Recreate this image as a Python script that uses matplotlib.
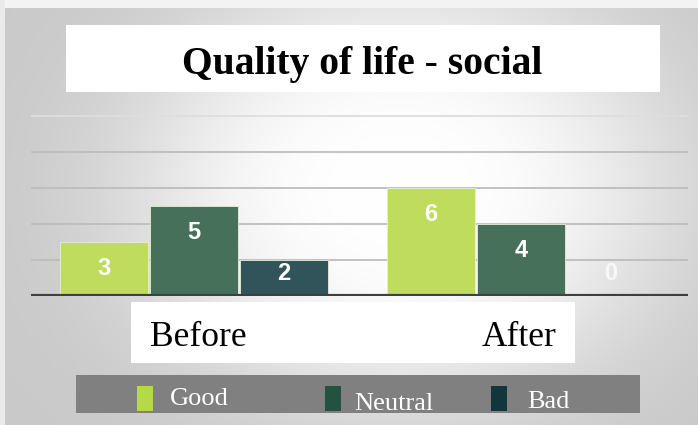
import numpy as np
import matplotlib
matplotlib.use("Agg")
import matplotlib.pyplot as plt
from matplotlib.patches import Rectangle

# ---- data ----
categories = ["Before", "After"]
series_names = ["Good", "Neutral", "Bad"]
good = [3, 6]
neutral = [5, 4]
bad = [2, 0]
title = "Quality of life - social"

bar_colors = ["#bfdc5c", "#47705b", "#30545a"]
legend_colors = ["#b5d94a", "#245241", "#13363c"]

W, H = 698, 425
fig = plt.figure(figsize=(W / 100, H / 100), dpi=100)

def fx(px):
    return px / W

def fy(py):
    return 1 - py / H

# ---- background ----
bg = fig.add_axes([0, 0, 1, 1], zorder=0)
bg.set_xlim(0, W)
bg.set_ylim(H, 0)
bg.axis("off")
xx, yy = np.meshgrid(np.linspace(0, W, 350), np.linspace(0, H, 213))
r2 = ((xx - 400) / 330) ** 2 + ((yy - 190) / 260) ** 2
val = 0.79 + 0.21 * np.exp(-(r2 ** 1.5) * 1.8)
img = np.dstack([val, val, val])
bg.imshow(img, extent=[0, W, H, 0], aspect="auto", zorder=0)
bg.add_patch(Rectangle((0, 0), W, 8, color="#f3f3f3", zorder=1, lw=0))
bg.add_patch(Rectangle((0, 0), 5, H, color="#eaeaea", zorder=1, lw=0))

# title box
bg.add_patch(Rectangle((66, 25), 594, 67, color="white", zorder=2, lw=0))
bg.text(362, 74, title, ha="center", va="baseline", fontsize=28.5, fontweight="bold",
        family="Liberation Serif", color="black", zorder=3)

# category label box
bg.add_patch(Rectangle((131, 302), 444, 61, color="white", zorder=2, lw=0))
cat_x_px = [198.5, 519]
for lab, cx in zip(categories, cat_x_px):
    bg.text(cx, 346, lab, ha="center", va="baseline", fontsize=25.5,
            family="Liberation Serif", color="black", zorder=3)

# legend box
bg.add_patch(Rectangle((76, 375), 564, 38, color="#808080", zorder=2, lw=0))
leg_patch_x = [137, 325, 491]
leg_text_x = [170, 354, 527]
leg_text_y = [405, 410, 408]
for name, c, px, tx, ty in zip(series_names, legend_colors, leg_patch_x, leg_text_x, leg_text_y):
    bg.add_patch(Rectangle((px, 386), 16, 25, color=c, zorder=3, lw=0))
    bg.text(tx, ty, name, ha="left", va="baseline", fontsize=19, family="Liberation Serif",
            color="white", zorder=3)

# ---- main axes ----
ax_left, ax_right = 31, 688
ax_bottom, ax_top = 296, 110
ax = fig.add_axes([fx(ax_left), fy(ax_bottom), (ax_right - ax_left) / W, (ax_bottom - ax_top) / H],
                  zorder=1)
ax.patch.set_alpha(0)
x = np.arange(len(categories))
ax.set_xlim(-0.498, 1.511)
ax.set_ylim(0, 10.33)
width = 0.27
offsets = [-0.275, 0, 0.275]
for gv in [2, 4, 6, 8, 10]:
    ax.axhline(gv, color="#bdbdbd" if gv < 10 else "#dedede", lw=1.3, zorder=1)
all_series = [good, neutral, bad]
for vals, off, c in zip(all_series, offsets, bar_colors):
    ax.bar(x + off, vals, width=width, color=c, zorder=2, lw=0.6, edgecolor="#e8eed8")
    for xi, v in zip(x + off, vals):
        ypos = max(v - 1.5, 1.25)
        ax.text(xi, ypos, str(v), ha="center", va="center", color="white",
                fontsize=17, fontweight="bold", family="Liberation Sans", zorder=3,
                alpha=1.0 if v > 0 else 0.75)
ax.axhline(0, color="#3f3f3f", lw=3, zorder=4)
for s in ax.spines.values():
    s.set_visible(False)
ax.set_xticks([])
ax.set_yticks([])

fig.savefig("out.png", dpi=100)
